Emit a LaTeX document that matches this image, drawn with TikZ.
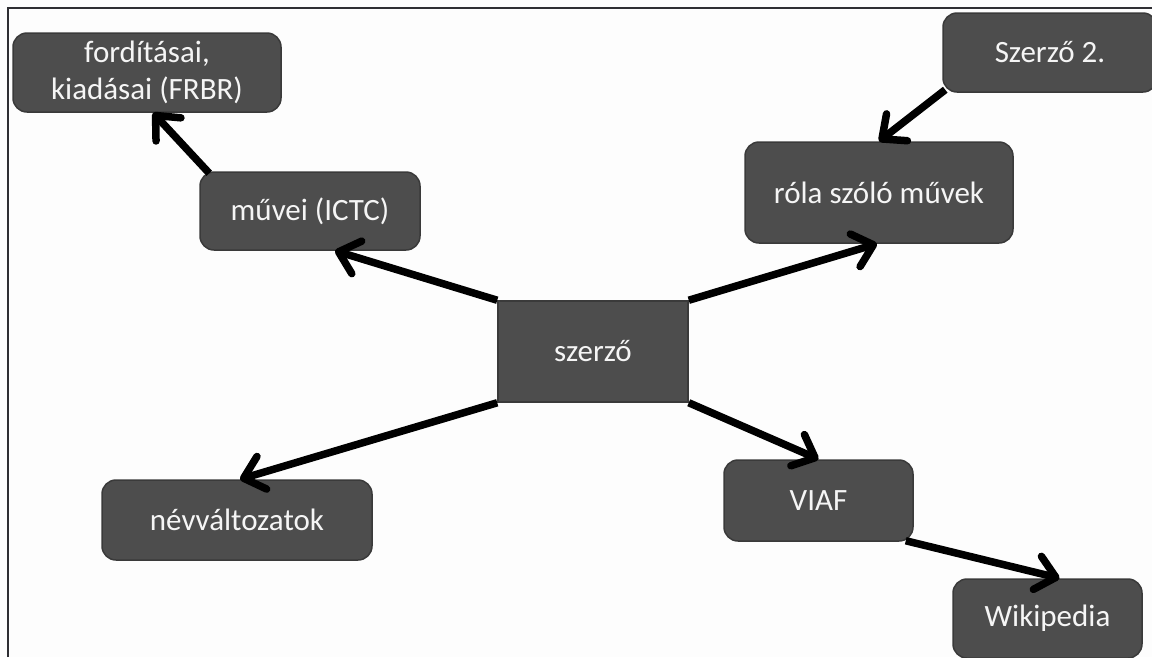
\documentclass[tikz,border=0pt]{standalone}
\usepackage{fontspec}
\setmainfont{Carlito}
\usetikzlibrary{arrows.meta}
\definecolor{boxfill}{HTML}{4D4D4D}
\definecolor{boxline}{HTML}{3A3A3A}
\definecolor{frameline}{HTML}{2E2E33}
\definecolor{bgc}{HTML}{FDFDFD}
\tikzset{
  box/.style={draw=boxline, line width=1.5pt, fill=boxfill, rounded corners=14pt,
    text=white!96!black, font=\fontsize{31}{37}\selectfont, align=center,
    inner sep=0pt, anchor=center},
  sqbox/.style={box, rounded corners=0pt},
  conn/.style={line width=7.5pt, -{Straight Barb[length=19pt,width=34pt,round]}}
}
\begin{document}
\begin{tikzpicture}[x=1pt,y=-1pt]
\fill[bgc] (0,0) rectangle (1152,657);
\useasboundingbox (0,0) rectangle (1152,657);
\draw[frameline, line width=2.5pt] (8,657) -- (8,8) -- (1152,8);

\node[box, minimum width=268pt, minimum height=79pt] (fordit) at (147,72.5) {fordításai,\\kiadásai (FRBR)};
\node[box, minimum width=214pt, minimum height=79pt] (szerzo2) at (1050,52.5) {Szerző 2.};
\node[box, minimum width=220pt, minimum height=78pt] (muvei) at (310,211) {művei (ICTC)};
\node[box, minimum width=268pt, minimum height=101pt] (rola) at (879,192.5) {róla szóló művek};
\node[sqbox, minimum width=190pt, minimum height=101pt] (szerzo) at (593,351.5) {szerző};
\node[box, minimum width=270pt, minimum height=80pt] (nevv) at (237,520) {névváltozatok};
\node[box, minimum width=189pt, minimum height=81pt] (viaf) at (818.5,500.5) {VIAF};
\node[box, minimum width=189pt, minimum height=79pt] (wiki) at (1047.5,618.5) {Wikipedia};

\draw[conn] (szerzo.north west) -- ([xshift=25pt]muvei.south);
\draw[conn] ([xshift=10pt,yshift=-2pt]muvei.north west) -- ([xshift=6pt]fordit.south);
\draw[conn] (szerzo.north east) -- ([xshift=-2pt]rola.south);
\draw[conn] ([xshift=3pt,yshift=3pt]szerzo2.south west) -- (rola.north);
\draw[conn] (szerzo.south west) -- ([xshift=3pt]nevv.north);
\draw[conn] (szerzo.south east) -- (viaf.north);
\draw[conn] ([xshift=-8pt,yshift=1pt]viaf.south east) -- ([xshift=12pt]wiki.north);
\end{tikzpicture}
\end{document}
